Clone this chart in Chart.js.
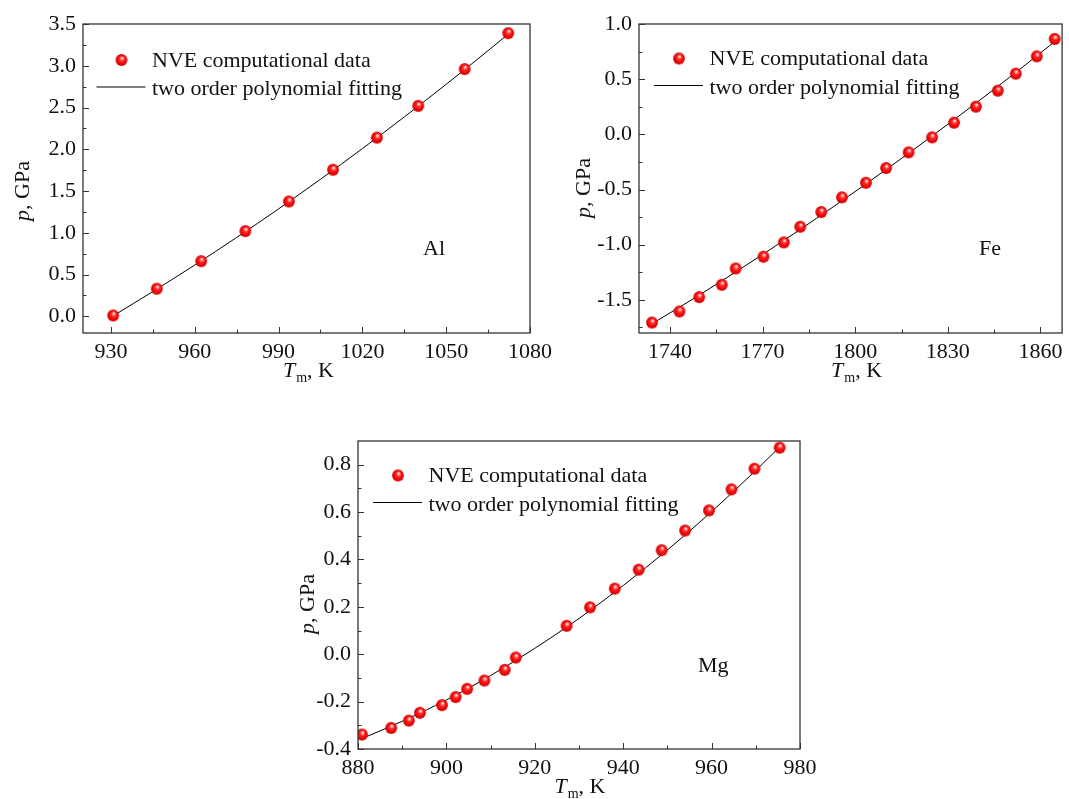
<!DOCTYPE html>
<html>
<head>
<meta charset="utf-8">
<title>Melting pressure vs temperature: Al, Fe, Mg</title>
<script src="https://cdn.jsdelivr.net/npm/chart.js@4.4.1/dist/chart.umd.min.js"></script>
<style>
    html, body { margin: 0; padding: 0; background: #fff; }
    #figure { position: relative; width: 1069px; height: 799px; background: #fff; }
    #figure canvas { position: absolute; }
</style>
</head>
<body>
<div id="figure">
    <canvas id="alChart" width="558" height="395" style="left:0;top:0"></canvas>
    <canvas id="feChart" width="509" height="395" style="left:560px;top:0"></canvas>
    <canvas id="mgChart" width="550" height="399" style="left:270px;top:400px"></canvas>
</div>
<script>
// ---- Al ----
const alTemps = [930.8, 946.4, 962.3, 978.1, 993.7, 1009.5, 1025.2, 1040.0, 1056.6, 1072.2];
const alPressure = [0.01, 0.33, 0.66, 1.02, 1.375, 1.755, 2.14, 2.52, 2.96, 3.39];
const alFitTemps = [931, 945, 960, 975, 990, 1005, 1020, 1035, 1050, 1065, 1072];
const alFitPressure = [0.01, 0.296, 0.614, 0.944, 1.286, 1.641, 2.008, 2.387, 2.778, 3.181, 3.374];
const alXTicks = [930, 960, 990, 1020, 1050, 1080];
const alXMinor = [945, 975, 1005, 1035, 1065];
const alYTicks = [0, 0.5, 1.0, 1.5, 2.0, 2.5, 3.0, 3.5];
const alYMinor = [0.25, 0.75, 1.25, 1.75, 2.25, 2.75, 3.25];

// ---- Fe ----
const feTemps = [1734.2, 1743.1, 1749.5, 1756.8, 1761.3, 1770.3, 1776.9, 1782.2, 1789.0, 1795.7,
                 1803.5, 1810.0, 1817.3, 1824.9, 1832.0, 1839.1, 1846.2, 1852.0, 1858.8, 1864.6];
const fePressure = [-1.705, -1.605, -1.475, -1.363, -1.215, -1.109, -0.979, -0.837, -0.704, -0.571,
                    -0.439, -0.305, -0.163, -0.027, 0.106, 0.251, 0.396, 0.550, 0.707, 0.865];
const feFitTemps = [1734, 1750, 1765, 1780, 1795, 1810, 1825, 1840, 1855, 1864.5];
const feFitPressure = [-1.72, -1.448, -1.180, -0.903, -0.616, -0.319, -0.013, 0.302, 0.627, 0.838];
const feXTicks = [1740, 1770, 1800, 1830, 1860];
const feXMinor = [1755, 1785, 1815, 1845];
const feYTicks = [-1.5, -1.0, -0.5, 0, 0.5, 1.0];
const feYMinor = [-1.75, -1.25, -0.75, -0.25, 0.25, 0.75];

// ---- Mg ----
const mgTemps = [880.9, 887.5, 891.5, 894.0, 899.0, 902.1, 904.7, 908.6, 913.2, 915.7,
                 927.2, 932.5, 938.1, 943.5, 948.7, 954.0, 959.4, 964.5, 969.7, 975.4];
const mgPressure = [-0.339, -0.311, -0.280, -0.247, -0.215, -0.181, -0.146, -0.111, -0.066, -0.014,
                    0.120, 0.198, 0.277, 0.357, 0.439, 0.522, 0.607, 0.696, 0.783, 0.872];
const mgFitTemps = [881, 890, 900, 910, 920, 930, 940, 950, 960, 970, 975.4];
const mgFitPressure = [-0.355, -0.283, -0.193, -0.090, 0.025, 0.151, 0.290, 0.440, 0.602, 0.776, 0.875];
const mgXTicks = [880, 900, 920, 940, 960, 980];
const mgXMinor = [890, 910, 930, 950, 970];
const mgYTicks = [-0.4, -0.2, 0, 0.2, 0.4, 0.6, 0.8];
const mgYMinor = [-0.3, -0.1, 0.1, 0.3, 0.5, 0.7];

const legendLabels = ['NVE computational data', 'two order polynomial fitting'];

const SERIF = "'Liberation Serif', 'Times New Roman', serif";
Chart.defaults.font.family = SERIF;
Chart.defaults.font.size = 22;
Chart.defaults.color = '#111';

/**
 * Shaded red ball used as the marker
 */
function makeSphere(r) {
    const size = Math.ceil(r * 2) + 2;
    const c = document.createElement('canvas');
    c.width = size;
    c.height = size;
    const g = c.getContext('2d');
    const cx = size / 2, cy = size / 2;
    const grad = g.createRadialGradient(cx + r * 0.15, cy - r * 0.4, 0, cx, cy, r);
    grad.addColorStop(0, '#ffffff');
    grad.addColorStop(0.18, '#ffb4b4');
    grad.addColorStop(0.4, '#ff2a2a');
    grad.addColorStop(0.8, '#f00000');
    grad.addColorStop(1, '#c00000');
    g.fillStyle = grad;
    g.beginPath();
    g.arc(cx, cy, r, 0, Math.PI * 2);
    g.fill();
    return c;
}
const sphere = makeSphere(5.9);

// frame, inward ticks, legend, element name and axis titles
const figurePlugin = {
    id: 'figure',
    afterDraw(chart, args, opts) {
        const { ctx, chartArea: a, scales: { x, y } } = chart;
        ctx.save();

        ctx.strokeStyle = '#333';
        ctx.lineWidth = 1.3;
        ctx.strokeRect(a.left, a.top, a.right - a.left, a.bottom - a.top);

        ctx.lineWidth = 1;
        ctx.beginPath();
        const xTick = (v, len) => {
            const px = Math.round(x.getPixelForValue(v)) + 0.5;
            ctx.moveTo(px, a.bottom);
            ctx.lineTo(px, a.bottom - len);
        };
        const yTick = (v, len) => {
            const py = Math.round(y.getPixelForValue(v)) + 0.5;
            ctx.moveTo(a.left, py);
            ctx.lineTo(a.left + len, py);
        };
        x.ticks.forEach(t => xTick(t.value, 6));
        opts.xMinor.forEach(v => xTick(v, 3.5));
        y.ticks.forEach(t => yTick(t.value, 6));
        opts.yMinor.forEach(v => yTick(v, 3.5));
        ctx.stroke();

        // legend
        const lx = a.left + (opts.legendDx || 0);
        const ly = a.top + (opts.legendDy || 0);
        ctx.drawImage(sphere, lx + 40 - sphere.width / 2, ly + 34.5 - sphere.height / 2);
        ctx.strokeStyle = '#000';
        ctx.beginPath();
        ctx.moveTo(lx + 15, ly + 61.5);
        ctx.lineTo(lx + 64, ly + 61.5);
        ctx.stroke();
        ctx.fillStyle = '#111';
        ctx.font = `22px ${SERIF}`;
        ctx.textBaseline = 'alphabetic';
        ctx.textAlign = 'left';
        ctx.fillText(legendLabels[0], lx + 70.5, ly + 41);
        ctx.fillText(legendLabels[1], lx + 70.5, ly + 69.5);

        // element name
        ctx.fillText(opts.element, a.left + 340, a.top + 231);

        // x title: T_m, K
        const italic = `italic 22px ${SERIF}`;
        const upright = `22px ${SERIF}`;
        const small = `14px ${SERIF}`;
        ctx.font = italic;
        const wT = ctx.measureText('T').width;
        ctx.font = small;
        const wM = ctx.measureText('m').width;
        ctx.font = upright;
        const wK = ctx.measureText(', K').width;
        let tx = (a.left + a.right) / 2 + (opts.xTitleDx || 0) - (wT + wM + wK + 1) / 2;
        const ty = a.bottom + 44;
        ctx.font = italic;
        ctx.fillText('T', tx, ty);
        tx += wT + 1;
        ctx.font = small;
        ctx.fillText('m', tx, ty + 5);
        tx += wM;
        ctx.font = upright;
        ctx.fillText(', K', tx, ty);

        // y title: p, GPa
        ctx.translate(a.left + opts.yTitleDx, a.top + opts.yTitleDy);
        ctx.rotate(-Math.PI / 2);
        ctx.font = italic;
        const wp = ctx.measureText('p').width;
        ctx.font = upright;
        const wG = ctx.measureText(', GPa').width;
        let sx = -(wp + wG) / 2;
        ctx.font = italic;
        ctx.fillText('p', sx, 0);
        ctx.font = upright;
        ctx.fillText(', GPa', sx + wp, 0);

        ctx.restore();
    }
};

/**
 * Build one panel
 */
function createPanel(canvasId, cfg) {
    const canvas = document.getElementById(canvasId);
    return new Chart(canvas.getContext('2d'), {
        type: 'scatter',
        data: {
            datasets: [
                {
                    label: legendLabels[0],
                    data: cfg.temps.map((t, i) => ({ x: t, y: cfg.pressure[i] })),
                    pointStyle: sphere,
                    pointRadius: 5.9,
                    order: 0
                },
                {
                    label: legendLabels[1],
                    data: cfg.fitTemps.map((t, i) => ({ x: t, y: cfg.fitPressure[i] })),
                    showLine: true,
                    borderColor: '#000',
                    borderWidth: 1,
                    pointRadius: 0,
                    cubicInterpolationMode: 'monotone',
                    order: 1
                }
            ]
        },
        options: {
            responsive: false,
            animation: false,
            events: [],
            layout: { padding: cfg.padding },
            plugins: {
                legend: { display: false },
                tooltip: { enabled: false },
                figure: cfg.figure
            },
            scales: {
                x: {
                    type: 'linear',
                    min: cfg.xMin,
                    max: cfg.xMax,
                    grid: { display: false, drawTicks: false },
                    border: { display: false },
                    afterBuildTicks: s => { s.ticks = cfg.xTicks.map(v => ({ value: v })); },
                    afterFit: s => {
                        s.height = cfg.xHeight;
                        s.paddingLeft = 0;
                        s.paddingRight = 0;
                    },
                    ticks: {
                        autoSkip: false,
                        maxRotation: 0,
                        padding: 6,
                        color: '#111',
                        callback: v => String(v)
                    }
                },
                y: {
                    type: 'linear',
                    min: cfg.yMin,
                    max: cfg.yMax,
                    grid: { display: false, drawTicks: false },
                    border: { display: false },
                    afterBuildTicks: s => { s.ticks = cfg.yTicks.map(v => ({ value: v })); },
                    afterFit: s => {
                        s.width = cfg.yWidth;
                        s.paddingTop = 0;
                        s.paddingBottom = 0;
                    },
                    ticks: {
                        autoSkip: false,
                        padding: 7,
                        color: '#111',
                        callback: v => v.toFixed(1)
                    }
                }
            }
        },
        plugins: [figurePlugin]
    });
}

createPanel('alChart', {
    temps: alTemps, pressure: alPressure, fitTemps: alFitTemps, fitPressure: alFitPressure,
    xMin: 920, xMax: 1080, yMin: -0.2, yMax: 3.5,
    xTicks: alXTicks, yTicks: alYTicks,
    padding: { left: 0, top: 24, right: 28, bottom: 0 },
    yWidth: 83, xHeight: 62,
    figure: { xMinor: alXMinor, yMinor: alYMinor, element: 'Al', legendDx: -1.5, legendDy: 1.5,
              yTitleDx: -54, yTitleDy: 167, xTitleDx: 2 }
});

createPanel('feChart', {
    temps: feTemps, pressure: fePressure, fitTemps: feFitTemps, fitPressure: feFitPressure,
    xMin: 1730, xMax: 1867, yMin: -1.8, yMax: 1.0,
    xTicks: feXTicks, yTicks: feYTicks,
    padding: { left: 0, top: 24, right: 2, bottom: 0 },
    yWidth: 79, xHeight: 62,
    figure: { xMinor: feXMinor, yMinor: feYMinor, element: 'Fe', legendDx: 0, legendDy: 0,
              yTitleDx: -49, yTitleDy: 164, xTitleDx: 6 }
});

createPanel('mgChart', {
    temps: mgTemps, pressure: mgPressure, fitTemps: mgFitTemps, fitPressure: mgFitPressure,
    xMin: 880, xMax: 980, yMin: -0.4, yMax: 0.9,
    xTicks: mgXTicks, yTicks: mgYTicks,
    padding: { left: 0, top: 41, right: 20, bottom: 0 },
    yWidth: 88, xHeight: 50,
    figure: { xMinor: mgXMinor, yMinor: mgYMinor, element: 'Mg', legendDx: 0, legendDy: 0,
              yTitleDx: -44, yTitleDy: 163, xTitleDx: 1 }
});
</script>
</body>
</html>
